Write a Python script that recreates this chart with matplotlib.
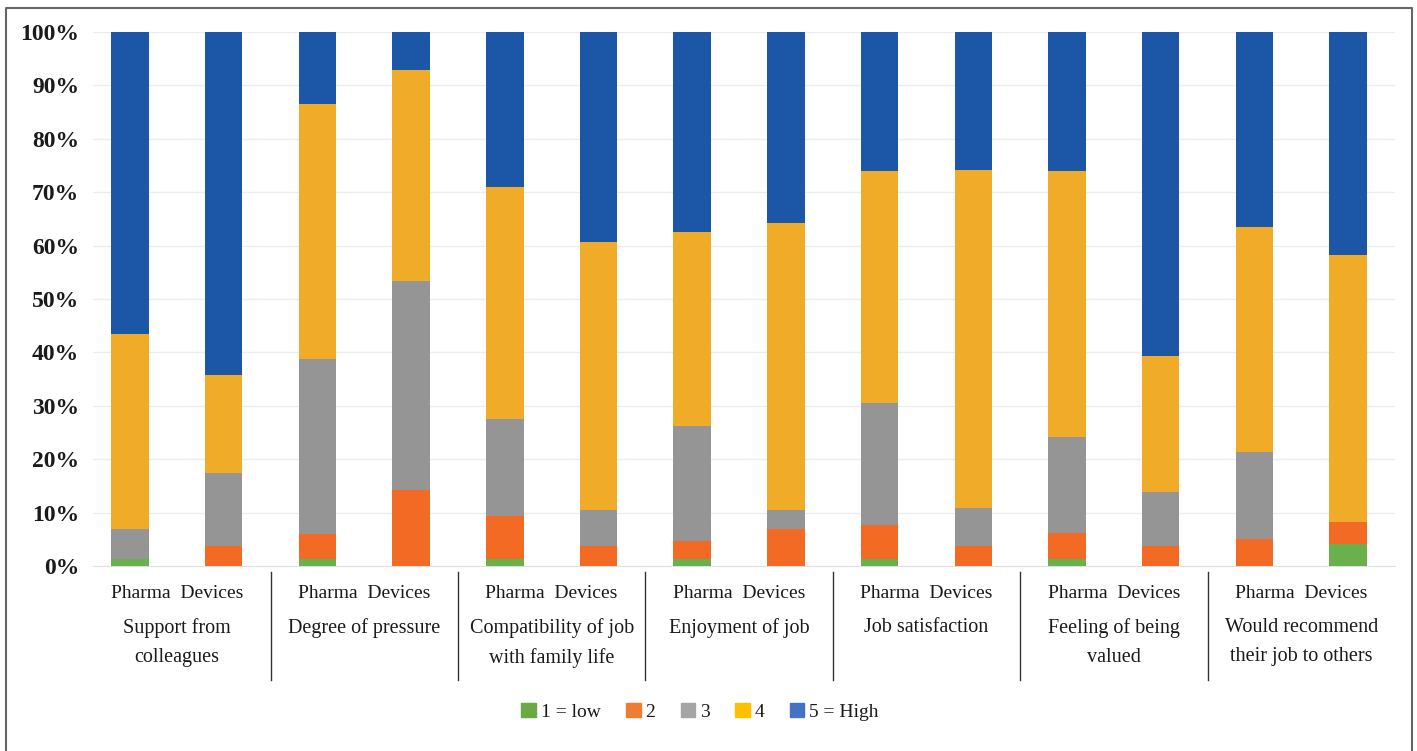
import numpy as np
import matplotlib.pyplot as plt
from matplotlib.patches import Patch
from matplotlib.lines import Line2D
import matplotlib.transforms as mtransforms

plt.rcParams['font.family'] = ['Liberation Serif', 'DejaVu Serif']

groups = ['Support from\ncolleagues', 'Degree of pressure',
          'Compatibility of job\nwith family life', 'Enjoyment of job',
          'Job satisfaction', 'Feeling of being\nvalued',
          'Would recommend\ntheir job to others']
sectors = ['Pharma', 'Devices']
levels = ['1 = low', '2', '3', '4', '5 = High']

# percentages per bar: Pharma/Devices alternating, per group
low1 = [1.3, 0.0, 1.3, 0.0, 1.3, 0.0, 1.3, 0.0, 1.3, 0.0, 1.3, 0.0, 0.0, 4.1]
lvl2 = [0.0, 3.7, 4.7, 14.2, 8.1, 3.7, 3.4, 7.0, 6.4, 3.7, 4.9, 3.7, 5.0, 4.1]
lvl3 = [5.7, 13.8, 32.7, 39.2, 18.2, 6.7, 21.5, 3.4, 22.9, 7.1, 18.0, 10.2, 16.4, 0.0]
lvl4 = [36.5, 18.3, 47.9, 39.4, 43.3, 50.3, 36.3, 53.9, 43.3, 63.4, 49.7, 25.4, 42.1, 50.1]
high5 = [56.5, 64.2, 13.4, 7.2, 29.1, 39.3, 37.5, 35.7, 26.1, 25.8, 26.1, 60.7, 36.5, 41.7]

bar_colors = ['#6AB04C', '#F26A24', '#959595', '#F0AC28', '#1B57A6']
legend_colors = ['#6AAA45', '#EE7D31', '#A5A5A5', '#FFC000', '#4472C4']

series = [low1, lvl2, lvl3, lvl4, high5]

fig = plt.figure(figsize=(14.17, 7.51), dpi=100)
ax = fig.add_axes([93 / 1417, 1 - 566 / 751, (1395 - 93) / 1417, 534 / 751])

x = np.arange(len(low1))
bottom = np.zeros(len(x))
for vals, c in zip(series, bar_colors):
    v = np.array(vals)
    ax.bar(x, v, 0.4, bottom=bottom, color=c, zorder=3)
    bottom += v

ax.set_xlim(-0.395, 13.5)
ax.set_ylim(0, 100)
ax.set_yticks(np.arange(0, 101, 10))
ax.set_yticklabels([f'{t}%' for t in range(0, 101, 10)], fontsize=17,
                   fontweight='bold', color='#1a1a1a')
ax.tick_params(axis='y', length=0, pad=10)
ax.set_xticks([])
ax.grid(axis='y', color='#EDEDED', lw=1, zorder=0)
for s in ['top', 'right', 'left']:
    ax.spines[s].set_visible(False)
ax.spines['bottom'].set_color('#E0E0E0')

# two-level category labels
trans = mtransforms.blended_transform_factory(ax.transData, fig.transFigure)
for g, name in enumerate(groups):
    xc = 2 * g + 0.5
    fig.text(0, 0, '  '.join(sectors), transform=trans, ha='center', va='center',
             fontsize=14, color='#1a1a1a')
    fig.texts[-1].set_position((xc, 1 - 594 / 751))
    fig.text(0, 0, name, transform=trans, ha='center', va='top',
             fontsize=14.5, color='#1a1a1a', linespacing=1.7)
    fig.texts[-1].set_position((xc, 1 - 618 / 751))
for g in range(1, len(groups)):
    xb = 2 * g - 0.5
    fig.add_artist(Line2D([xb, xb], [1 - 572 / 751, 1 - 680 / 751], transform=trans,
                          color='#333333', lw=1))

# frame around the figure
fig.add_artist(Line2D([6 / 1417, 6 / 1417, 1412 / 1417, 1412 / 1417],
                      [0, 1 - 8 / 751, 1 - 8 / 751, 0],
                      transform=fig.transFigure, color='#666666', lw=1.5))

handles = [Patch(color=c, label=l) for c, l in zip(legend_colors, levels)]
fig.legend(handles=handles, loc='center', bbox_to_anchor=(700 / 1417, 1 - 712 / 751),
           ncol=5, frameon=False, fontsize=14, handlelength=0.75, handleheight=0.75,
           handletextpad=0.25, columnspacing=1.3, labelcolor='#1a1a1a')

fig.savefig('out.png', dpi=100)
